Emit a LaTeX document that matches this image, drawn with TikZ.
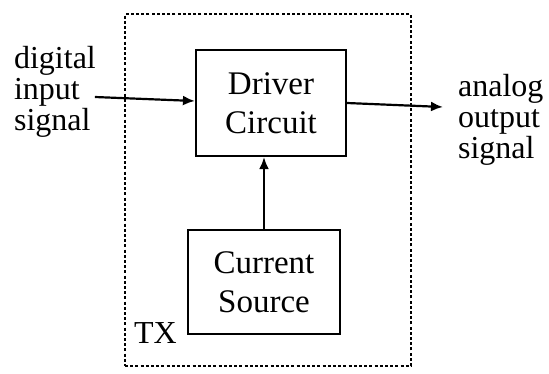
\documentclass[tikz,border=0pt]{standalone}
\usepackage{fontspec}
\setmainfont{Liberation Serif}
\usetikzlibrary{arrows.meta,positioning}

\begin{document}
\begin{tikzpicture}[x=1pt,y=-1pt,line width=2.2pt,
  every node/.style={font=\fontsize{32}{31}\selectfont,inner sep=0pt},
  blk/.style={draw,align=center,font=\fontsize{33}{39}\selectfont},
  arr/.style={-{Latex[length=12pt,width=10pt]}}]
\useasboundingbox (0,0) rectangle (549,373);
% transmitter boundary
\node[draw,line width=2pt,dash pattern=on 3pt off 2.2pt,minimum width=286pt,minimum height=352pt] (tx) at (268,190) {};
\node[anchor=base west,font=\fontsize{32}{32}\selectfont] (txlbl) at (133,343) {TX};
% blocks
\node[blk,minimum width=150pt,minimum height=106pt] (drv) at (271,103) {Driver\\Circuit};
\node[blk,minimum width=152pt,minimum height=104pt] (src) at (264,282) {Current\\Source};
% signals
\node[align=left,anchor=west] (inlbl) at (13,92) {digital\\input\\signal};
\node[align=left,anchor=west] (outlbl) at (457,120) {analog\\output\\signal};
\coordinate (outend) at (443,107);
\draw[arr] ([xshift=-2pt,yshift=-5pt]inlbl.east) -- ([yshift=2pt]drv.west);
\draw[arr] (drv.east) -- (outend);
\draw[arr] (src.north) -- (src.north |- drv.south);
\end{tikzpicture}
\end{document}
